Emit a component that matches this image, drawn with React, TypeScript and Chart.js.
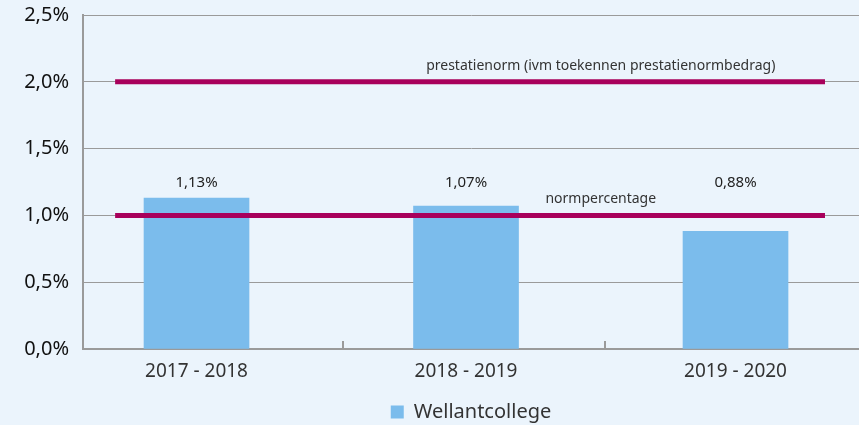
import React, { useEffect, useRef } from 'react';
import { Chart, registerables } from 'chart.js';

Chart.register(...registerables);

const categories = ['2017 - 2018', '2018 - 2019', '2019 - 2020'];
const seriesName = 'Wellantcollege';
const values = [1.13, 1.07, 0.88];
const yTickValues = [0, 0.5, 1, 1.5, 2, 2.5];
const normLevels = [2.0, 1.0];
const normLabels = ['prestatienorm (ivm toekennen prestatienormbedrag)', 'normpercentage'];
const normSpan = [-0.302, 2.332];
const normLabelAt = 1.5;
const separatorTicks = [0.545, 1.515];

const BG = '#EBF4FC';
const BAR = '#7BBCEC';
const NORM = '#A8005B';
const GRID = '#9a9a9a';
const FONT = "'Noto Sans', 'Open Sans', sans-serif";

const fmt = (v: number, d: number) => v.toFixed(d).replace('.', ',') + '%';

const overlay = {
  id: 'overlay',
  afterDatasetsDraw(chart: any) {
    const { ctx, scales } = chart;
    const x = scales.x;
    const y = scales.y;
    ctx.save();
    ctx.strokeStyle = GRID;
    ctx.lineWidth = 2;
    const y0 = y.getPixelForValue(0);
    separatorTicks.forEach((v) => {
      const px = Math.round(x.getPixelForValue(v));
      ctx.beginPath();
      ctx.moveTo(px, y0);
      ctx.lineTo(px, y0 - 8);
      ctx.stroke();
    });
    // value labels share one baseline, just above the tallest bar
    const labelY = y.getPixelForValue(Math.max(...values)) - 15;
    ctx.fillStyle = '#222';
    ctx.textAlign = 'center';
    ctx.textBaseline = 'middle';
    ctx.font = `15px ${FONT}`;
    values.forEach((v, i) => {
      ctx.fillText(fmt(v, 2), x.getPixelForValue(i), labelY);
    });
    ctx.fillStyle = '#333';
    ctx.font = `14px ${FONT}`;
    normLevels.forEach((lv, i) => {
      ctx.fillText(normLabels[i], x.getPixelForValue(normLabelAt), y.getPixelForValue(lv) - 16);
    });
    ctx.restore();
  },
};

export default function App() {
  const ref = useRef<HTMLCanvasElement | null>(null);

  useEffect(() => {
    if (!ref.current) return;
    const datasets: any[] = [
      {
        type: 'bar',
        label: seriesName,
        data: values.map((v, i) => ({ x: i, y: v })),
        backgroundColor: BAR,
        borderWidth: 0,
        barThickness: 105,
        order: 2,
      },
      ...normLevels.map((lv, i) => ({
        type: 'line',
        label: normLabels[i],
        data: normSpan.map((sx) => ({ x: sx, y: lv })),
        borderColor: NORM,
        borderWidth: 5,
        pointRadius: 0,
        fill: false,
        order: 1,
      })),
    ];
    const chart = new Chart(ref.current, {
      type: 'bar',
      data: { datasets },
      plugins: [overlay],
      options: {
        animation: false,
        responsive: false,
        maintainAspectRatio: false,
        layout: { padding: { top: 15, right: 0, left: 0, bottom: -7 } },
        plugins: {
          tooltip: { enabled: false },
          legend: {
            position: 'bottom',
            fullSize: false,
            labels: {
              boxWidth: 13,
              boxHeight: 13,
              color: '#333',
              padding: 8,
              font: { family: FONT, size: 20 },
              filter: (item: any) => item.datasetIndex === 0,
            },
          },
        },
        scales: {
          x: {
            type: 'linear',
            offset: false,
            min: -0.4212,
            max: 2.4582,
            grid: { display: false, offset: false },
            border: { display: true, color: GRID, width: 2 },
            afterBuildTicks: (s: any) => {
              s.ticks = categories.map((_, i) => ({ value: i }));
            },
            afterFit: (s: any) => {
              s.height = 45;
              s.paddingLeft = 0;
              s.paddingRight = 0;
            },
            ticks: {
              autoSkip: false,
              maxRotation: 0,
              padding: 3,
              color: '#333',
              font: { family: FONT, size: 19 },
              callback: (v: any) => categories[v] ?? '',
            },
          },
          y: {
            min: 0,
            max: 2.5,
            afterBuildTicks: (s: any) => {
              s.ticks = yTickValues.map((v) => ({ value: v }));
            },
            afterFit: (s: any) => {
              s.width = 83;
              s.paddingTop = 0;
              s.paddingBottom = 0;
            },
            grid: { color: GRID, lineWidth: 1, drawTicks: false },
            border: { display: true, color: GRID, width: 2 },
            ticks: {
              padding: 14,
              color: '#111',
              font: { family: FONT, size: 20 },
              callback: (v: any) => fmt(Number(v), 1),
            },
          },
        },
      } as any,
    });
    return () => chart.destroy();
  }, []);

  return (
    <div style={{ position: 'absolute', left: 0, top: 0, width: 859, height: 425, background: BG }}>
      <canvas ref={ref} width={859} height={425} style={{ display: 'block', width: 859, height: 425 }} />
    </div>
  );
}
